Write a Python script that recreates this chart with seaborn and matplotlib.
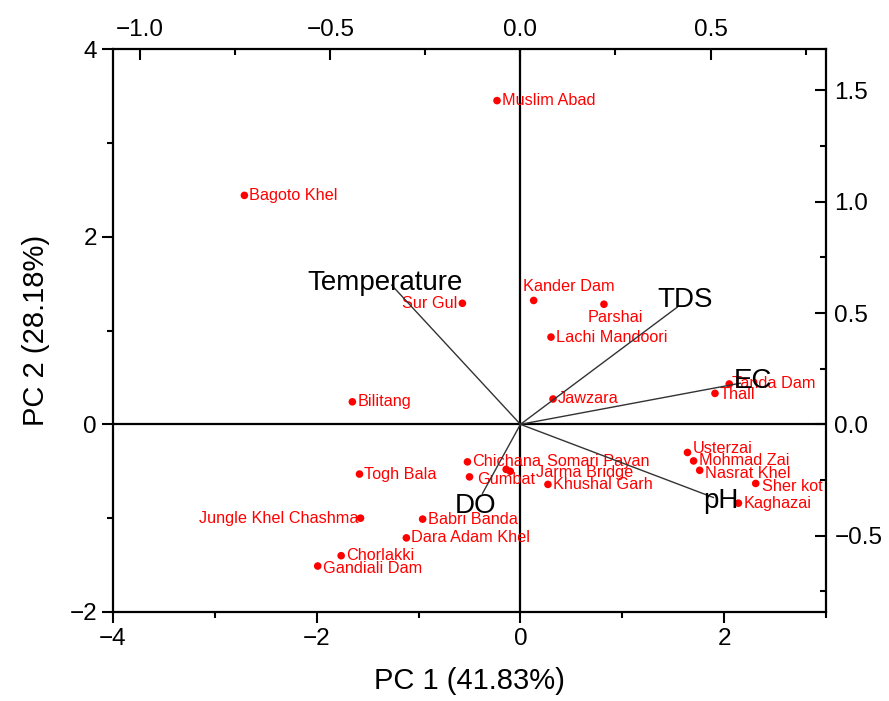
import numpy as np
import pandas as pd
import matplotlib
matplotlib.use("Agg")
import matplotlib.pyplot as plt
from matplotlib.ticker import MultipleLocator, FuncFormatter
import seaborn as sns

sites = ["Muslim Abad", "Bagoto Khel", "Sur Gul", "Kander Dam", "Parshai", "Lachi Mandoori",
         "Jawzara", "Tanda Dam", "Thall", "Bilitang", "Usterzai", "Mohmad Zai", "Nasrat Khel",
         "Sher kot", "Kaghazai", "Khushal Garh", "Jarma Bridge", "Somari Payan", "Chichana",
         "Gumbat", "Togh Bala", "Jungle Khel Chashma", "Babri Banda", "Dara Adam Khel",
         "Chorlakki", "Gandiali Dam"]
pc1 = [-0.23, -2.71, -0.57, 0.13, 0.82, 0.30, 0.32, 2.05, 1.91, -1.65, 1.64, 1.70, 1.76,
       2.31, 2.14, 0.27, -0.14, -0.10, -0.52, -0.50, -1.58, -1.57, -0.96, -1.12, -1.76, -1.99]
pc2 = [3.45, 2.44, 1.29, 1.32, 1.28, 0.93, 0.27, 0.43, 0.33, 0.24, -0.30, -0.39, -0.49,
       -0.63, -0.84, -0.64, -0.48, -0.50, -0.40, -0.56, -0.53, -1.00, -1.01, -1.21, -1.40, -1.51]

variables = ["Temperature", "TDS", "EC", "pH", "DO"]
load1 = [-0.339, 0.413, 0.579, 0.508, -0.100]
load2 = [0.626, 0.527, 0.185, -0.329, -0.311]

xlabel = "PC 1 (41.83%)"
ylabel = "PC 2 (28.18%)"

# label offsets (pixels) and alignment
site_offsets = {
    "Sur Gul": (-5, 0, "right"),
    "Jungle Khel Chashma": (-2, 0, "right"),
    "Kander Dam": (-11, 14, "left"),
    "Parshai": (-16, -13, "left"),
    "Somari Payan": (37, 10, "left"),
    "Jarma Bridge": (30, -3, "left"),
    "Gumbat": (8, -3, "left"),
    "Tanda Dam": (3, 0, "left"),
    "Thall": (5, -1, "left"),
    "Gandiali Dam": (5, -2, "left"),
    "Usterzai": (5, 4, "left"),
    "Nasrat Khel": (5, -3, "left"),
    "Sher kot": (6, -3, "left"),
}
var_offsets = {
    "Temperature": (-6, 2),
    "TDS": (8, 7),
    "EC": (12, 2),
    "pH": (7, -3),
    "DO": (-7, -12),
}

sns.set_theme(style="white")
plt.rcParams["font.family"] = ["Liberation Sans", "DejaVu Sans"]
plt.rcParams["text.color"] = "black"
plt.rcParams["axes.labelcolor"] = "black"
plt.rcParams["xtick.color"] = "black"
plt.rcParams["ytick.color"] = "black"

W, H = 889, 701
fig = plt.figure(figsize=(W / 100, H / 100), dpi=100)
pos = [113 / W, (H - 612) / H, (826 - 113) / W, (612 - 49) / H]
ax = fig.add_axes(pos)

df = pd.DataFrame({"site": sites, "PC1": pc1, "PC2": pc2})
ax.axhline(0, color="black", lw=1.6, zorder=1)
ax.axvline(0, color="black", lw=1.6, zorder=1)
sns.scatterplot(data=df, x="PC1", y="PC2", ax=ax, color="#ff0000", s=30,
                edgecolor="none", zorder=4)
for s, x, y in zip(sites, pc1, pc2):
    dx, dy, ha = site_offsets.get(s, (5, 0, "left"))
    ax.annotate(s, (x, y), xytext=(dx, dy), textcoords="offset pixels",
                ha=ha, va="center", color="#ff0000", fontsize=11.7, zorder=5)

fmt = FuncFormatter(lambda v, p: f"{v:g}".replace("-", "\u2212"))
ax.set_xlim(-4, 3)
ax.set_ylim(-2, 4)
ax.xaxis.set_major_locator(MultipleLocator(2))
ax.xaxis.set_minor_locator(MultipleLocator(1))
ax.yaxis.set_major_locator(MultipleLocator(2))
ax.yaxis.set_minor_locator(MultipleLocator(1))
ax.xaxis.set_major_formatter(fmt)
ax.yaxis.set_major_formatter(fmt)
ax.set_xlabel(xlabel, fontsize=21, labelpad=12)
ax.set_ylabel(ylabel, fontsize=21, labelpad=14)
ax.tick_params(axis="both", which="major", direction="out", length=8, width=1.5,
               labelsize=17.5, bottom=True, left=True, top=False, right=False,
               color="black", labelcolor="black")
ax.tick_params(axis="both", which="minor", direction="out", length=4, width=1.5,
               bottom=True, left=True, top=False, right=False, color="black")
for sp in ax.spines.values():
    sp.set_color("black")
    sp.set_linewidth(1.6)

# loadings axes (top / right scales)
kx = 101.8 / 380.0
ky = 93.8 / 222.5
ax2 = fig.add_axes(pos, frameon=False)
ax2.patch.set_visible(False)
ax2.set_xlim(-4 * kx, 3 * kx)
ax2.set_ylim(-2 * ky, 4 * ky)
ax2.xaxis.tick_top()
ax2.yaxis.tick_right()
ax2.xaxis.set_major_locator(MultipleLocator(0.5))
ax2.xaxis.set_minor_locator(MultipleLocator(0.25))
ax2.yaxis.set_major_locator(MultipleLocator(0.5))
ax2.yaxis.set_minor_locator(MultipleLocator(0.25))
ax2.tick_params(axis="both", which="major", direction="in", length=8, width=1.5,
                labelsize=17.5, top=True, right=True, bottom=False, left=False,
                labeltop=True, labelright=True, labelbottom=False, labelleft=False,
                color="black", labelcolor="black", pad=6)
ax2.tick_params(axis="both", which="minor", direction="in", length=4, width=1.5,
                top=True, right=True, bottom=False, left=False, color="black")
fmt2 = FuncFormatter(lambda v, p: f"{v:.1f}".replace("-", "\u2212"))
ax2.xaxis.set_major_formatter(fmt2)
ax2.yaxis.set_major_formatter(fmt2)

for v, lx, ly in zip(variables, load1, load2):
    ax2.plot([0, lx], [0, ly], color="#333333", lw=1.0, zorder=3)
    dx, dy = var_offsets[v]
    ax2.annotate(v, (lx, ly), xytext=(dx, dy), textcoords="offset pixels",
                 ha="center", va="center", color="black", fontsize=20, zorder=6)

fig.savefig("out.png", dpi=100)
